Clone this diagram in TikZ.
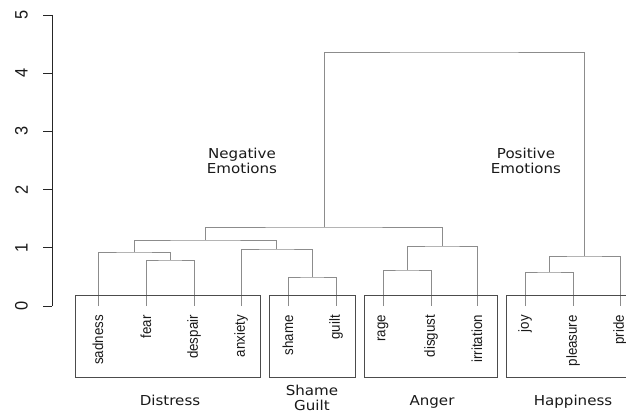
\documentclass[tikz,border=0pt]{standalone}
\usepackage{fontspec}
\newfontfamily\labfont[FakeStretch=1.1]{DejaVu Sans}
\newfontfamily\leaffont[FakeStretch=0.91]{Liberation Sans}
\begin{document}
\begin{tikzpicture}[x=1pt,y=-1pt,
  dend/.style={draw=black!45,line width=0.9pt},
  grpbox/.style={draw=black!70,line width=0.9pt},
  axisline/.style={draw=black!85,line width=0.9pt},
  leaf/.style={rotate=90,anchor=east,inner sep=0pt,font=\leaffont\fontsize{14.6}{16}\selectfont,text=black!90},
  ticklab/.style={rotate=90,inner sep=0pt,font=\leaffont\fontsize{18}{18}\selectfont,text=black!90},
  grplab/.style={align=center,inner sep=0pt,font=\labfont\fontsize{13.7}{15}\selectfont,text=black!90}]
\useasboundingbox (0,0) rectangle (626,414);
\fill[white] (0,0) rectangle (626,414);
% axis
\draw[axisline] (52,15) -- (52,306);
\foreach \v/\yy in {0/306,1/247.8,2/189.6,3/131.4,4/73.2,5/15}{
  \draw[axisline] (43,\yy) -- (52,\yy);
  \node[ticklab] (t\v) at (21.5,\yy) {\v};
}
% leaves
\foreach \n/\xx in {sadness/98,fear/146,despair/194,anxiety/241,shame/288,guilt/336,rage/383,disgust/431,irritation/477,joy/525,pleasure/573,pride/620}{
  \coordinate (c\n) at (\xx,306);
  \node[leaf] (\n) at (\xx,315) {\n};
}
% merges
\coordinate (mFD) at (170,260);
\coordinate (mSFD) at (134,252);
\coordinate (mSG) at (312,277);
\coordinate (mASG) at (276.5,249);
\coordinate (mNeg1) at (205.5,240);
\coordinate (mRD) at (407,270);
\coordinate (mAng) at (442,246);
\coordinate (mNeg) at (324,227);
\coordinate (mJP) at (549,272);
\coordinate (mPos) at (584,256);
\coordinate (mTop) at (454,52);
\draw[dend] (cfear) |- (mFD) -| (cdespair);
\draw[dend] (csadness) |- (mSFD) -| (mFD);
\draw[dend] (cshame) |- (mSG) -| (cguilt);
\draw[dend] (canxiety) |- (mASG) -| (mSG);
\draw[dend] (mSFD) |- (mNeg1) -| (mASG);
\draw[dend] (crage) |- (mRD) -| (cdisgust);
\draw[dend] (mRD) |- (mAng) -| (cirritation);
\draw[dend] (mNeg1) |- (mNeg) -| (mAng);
\draw[dend] (cjoy) |- (mJP) -| (cpleasure);
\draw[dend] (mJP) |- (mPos) -| (cpride);
\draw[dend] (mNeg) |- (mTop) -| (mPos);
% group boxes
\draw[grpbox] (75,295) rectangle (260,377);
\draw[grpbox] (269,295) rectangle (355,377);
\draw[grpbox] (364,295) rectangle (497,377);
\draw[grpbox] (640,295) -- (506,295) -- (506,377) -- (640,377);
% labels
\node[grplab,anchor=base] (distress) at (170,405) {Distress};
\node[grplab] (shameguilt) at (312,398) {Shame\\Guilt};
\node[grplab,anchor=base] (anger) at (432,405) {Anger};
\node[grplab,anchor=base] (happiness) at (573,405) {Happiness};
\node[grplab] (neg) at (242,161) {Negative\\Emotions};
\node[grplab] (pos) at (526,161) {Positive\\Emotions};
\end{tikzpicture}
\end{document}
